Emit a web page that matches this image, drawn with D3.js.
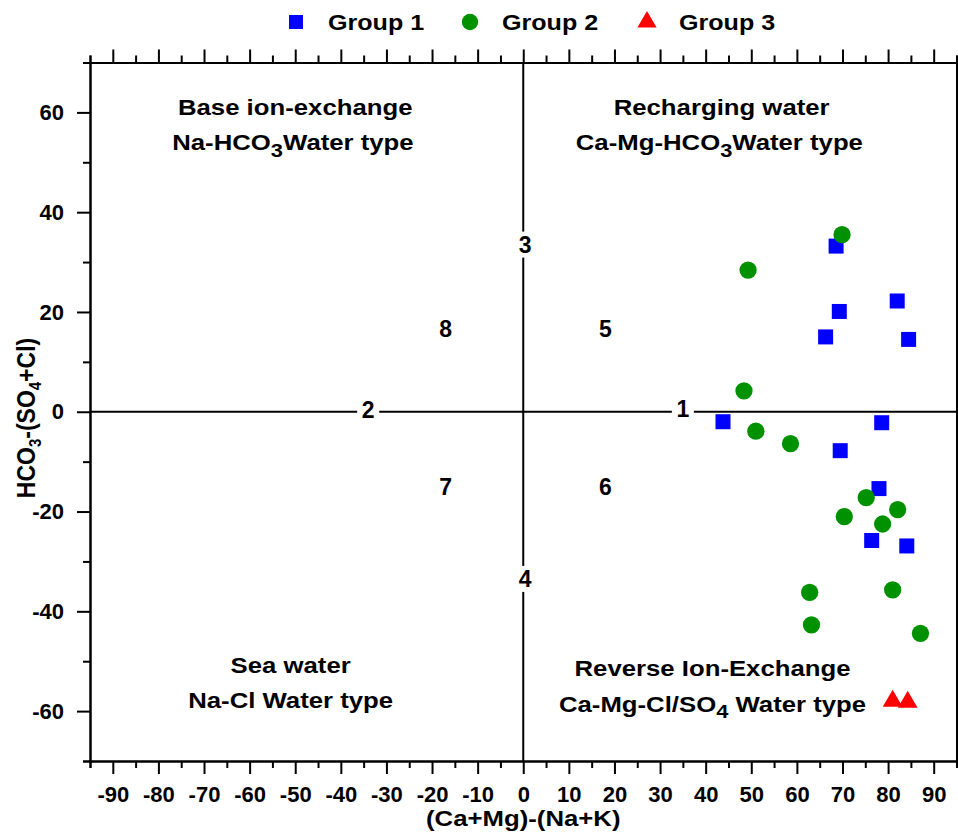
<!DOCTYPE html>
<html>
<head>
<meta charset="utf-8">
<script src="https://cdn.jsdelivr.net/npm/d3@7"></script>
<style>
  html, body { margin: 0; padding: 0; background: #fff; }
  svg { display: block; font-family: "Liberation Sans", Arial, Helvetica, sans-serif; font-weight: bold; }
</style>
</head>
<body>
<svg id="chart" width="958" height="836"></svg>
<script>
// ---- data -------------------------------------------------------------
const seriesNames  = ["Group 1", "Group 2", "Group 3"];
const seriesColors = ["#0000ff", "#009100", "#ff0000"];

const group1X = [68.6, 69.3, 82.0, 66.3, 84.5, 43.8, 69.5, 78.6, 78.0, 76.4, 84.1];
const group1Y = [33.2, 20.1, 22.2, 15.0, 14.5, -2.0, -7.8, -2.2, -15.4, -25.8, -26.9];

const group2X = [69.9, 49.3, 48.4, 51.0, 58.6, 75.2, 82.1, 70.4, 78.8, 62.8, 81.0, 63.2, 87.1];
const group2Y = [35.5, 28.4, 4.2, -3.9, -6.4, -17.2, -19.6, -21.0, -22.5, -36.2, -35.7, -42.7, -44.4];

const group3X = [81.0, 84.3];
const group3Y = [-58.0, -58.2];

const xTicks      = d3.range(-90, 91, 10);
const xMinorTicks = d3.range(-95, 96, 10);
const yTicks      = d3.range(-60, 61, 20);
const yMinorTicks = d3.range(-70, 71, 20);

// zone numbers and where they sit
const zoneNumbers = ["1", "2", "3", "4", "5", "6", "7", "8"];
const zoneX       = [35, -34, 0.4, 0.4, 18, 18, -17, -17];
const zoneY       = [0.6, 0.4, 33.5, -33.5, 16.7, -15, -15, 16.7];
const zoneOnLine  = [true, true, true, true, false, false, false, false];

// quadrant captions: each line is a list of [text, isSubscript]
const quadLines = [
  [["Base ion-exchange", false]],
  [["Na-HCO", false], ["3", true], ["Water type", false]],
  [["Recharging water", false]],
  [["Ca-Mg-HCO", false], ["3", true], ["Water type", false]],
  [["Sea water", false]],
  [["Na-Cl Water type", false]],
  [["Reverse Ion-Exchange", false]],
  [["Ca-Mg-Cl/SO", false], ["4", true], [" Water type", false]]
];
const quadX = [-50, -50.5, 43.5, 43, -51, -51, 41.5, 41.5];
const quadY = [61, 54, 61, 54, -50.8, -57.8, -51.4, -58.6];

// ---- layout -----------------------------------------------------------
const svg = d3.select("#chart");
const plotLeft = 90, plotRight = 956.5, plotTop = 62.5, plotBottom = 761;
const x = d3.scaleLinear().domain([-95, 95]).range([plotLeft, plotRight]);
const y = d3.scaleLinear().domain([-70, 70]).range([plotBottom, plotTop]);

function richText(g, cx, cy, parts, size, stretch, anchor) {
  const t = g.append("text")
    .attr("transform", `translate(${cx},${cy}) scale(${stretch},1)`)
    .attr("text-anchor", anchor || "middle")
    .attr("font-size", size)
    .attr("dy", "0.36em");
  parts.forEach(([s, sub]) => {
    const ts = t.append("tspan").text(s);
    if (sub) ts.attr("font-size", size * 0.85).attr("baseline-shift", -size * 0.28 + "px");
  });
  return t;
}

// ---- dividing lines ---------------------------------------------------
svg.append("line").attr("x1", x(-95)).attr("x2", x(95)).attr("y1", y(0)).attr("y2", y(0))
  .attr("stroke", "#000").attr("stroke-width", 2);
svg.append("line").attr("x1", x(0)).attr("x2", x(0)).attr("y1", y(-70)).attr("y2", y(70))
  .attr("stroke", "#000").attr("stroke-width", 2);

const zones = svg.append("g");
zoneNumbers.forEach((n, i) => {
  if (zoneOnLine[i]) {
    zones.append("rect")
      .attr("x", x(zoneX[i]) - 11).attr("y", y(zoneY[i]) - 13)
      .attr("width", 22).attr("height", 26).attr("fill", "#fff");
  }
  zones.append("text")
    .attr("x", x(zoneX[i])).attr("y", y(zoneY[i]))
    .attr("dy", "0.36em").attr("text-anchor", "middle")
    .attr("font-size", 23).text(n);
});

// ---- quadrant captions -------------------------------------------------
const caps = svg.append("g");
quadLines.forEach((parts, i) => richText(caps, x(quadX[i]), y(quadY[i]), parts, 22, 1.17));

// ---- points -----------------------------------------------------------
const pts = svg.append("g");
pts.selectAll(".g1").data(d3.zip(group1X, group1Y)).join("path")
  .attr("transform", d => `translate(${x(d[0])},${y(d[1])})`)
  .attr("d", d3.symbol(d3.symbolSquare, 225)()).attr("fill", seriesColors[0]);
pts.selectAll(".g2").data(d3.zip(group2X, group2Y)).join("path")
  .attr("transform", d => `translate(${x(d[0])},${y(d[1])})`)
  .attr("d", d3.symbol(d3.symbolCircle, 235)()).attr("fill", seriesColors[1]);
pts.selectAll(".g3").data(d3.zip(group3X, group3Y)).join("path")
  .attr("transform", d => `translate(${x(d[0])},${y(d[1])})`)
  .attr("d", d3.symbol(d3.symbolTriangle, 170)()).attr("fill", seriesColors[2]);

// ---- axes and frame ---------------------------------------------------
function styleAxis(g) {
  g.selectAll("path, line").attr("stroke", "#000").attr("stroke-width", 2);
  g.selectAll("text").attr("font-size", 22).attr("font-weight", "bold").attr("fill", "#000")
    .attr("font-family", '"Liberation Sans", Arial, sans-serif');
}
const axes = svg.append("g");
// bottom
axes.append("g").attr("transform", `translate(0,${plotBottom})`)
  .call(d3.axisBottom(x).tickValues(xMinorTicks).tickSize(7).tickFormat(""))
  .call(styleAxis);
axes.append("g").attr("transform", `translate(0,${plotBottom})`)
  .call(d3.axisBottom(x).tickValues(xTicks).tickSize(13).tickSizeOuter(0).tickPadding(12).tickFormat(d3.format("d")))
  .call(styleAxis);
// top
axes.append("g").attr("transform", `translate(0,${plotTop})`)
  .call(d3.axisTop(x).tickValues(xMinorTicks).tickSize(7).tickFormat(""))
  .call(styleAxis);
axes.append("g").attr("transform", `translate(0,${plotTop})`)
  .call(d3.axisTop(x).tickValues(xTicks).tickSize(13).tickSizeOuter(0).tickFormat(""))
  .call(styleAxis);
// left
axes.append("g").attr("transform", `translate(${plotLeft},0)`)
  .call(d3.axisLeft(y).tickValues(yMinorTicks).tickSize(7).tickFormat(""))
  .call(styleAxis);
axes.append("g").attr("transform", `translate(${plotLeft},0)`)
  .call(d3.axisLeft(y).tickValues(yTicks).tickSize(13).tickSizeOuter(0).tickPadding(13).tickFormat(d3.format("d")))
  .call(styleAxis);
// right
axes.append("g").attr("transform", `translate(${plotRight},0)`)
  .call(d3.axisRight(y).tickValues(yMinorTicks).tickSize(7).tickFormat(""))
  .call(styleAxis);
axes.append("g").attr("transform", `translate(${plotRight},0)`)
  .call(d3.axisRight(y).tickValues(yTicks).tickSize(13).tickSizeOuter(0).tickFormat(""))
  .call(styleAxis);
// minus sign as a plain hyphen
axes.selectAll("text").text(function () { return this.textContent.replace("\u2212", "-"); });

// axis titles
richText(svg, (plotLeft + plotRight) / 2, 818, [["(Ca+Mg)-(Na+K)", false]], 23, 1.12);
const yt = svg.append("text")
  .attr("transform", `translate(26,418) rotate(-90) scale(1,1.12)`)
  .attr("text-anchor", "middle").attr("font-size", 23).attr("dy", "0.36em");
[["HCO", false], ["3", true], ["-(SO", false], ["4", true], ["+Cl)", false]].forEach(([s, sub]) => {
  const ts = yt.append("tspan").text(s);
  if (sub) ts.attr("font-size", 15).attr("baseline-shift", "-5px");
});

// ---- legend -----------------------------------------------------------
const legendSymbolX = [296, 470, 647];
const legendSymbols = [
  d3.symbol(d3.symbolSquare, 196)(),
  d3.symbol(d3.symbolCircle, 210)(),
  d3.symbol(d3.symbolTriangle, 160)()
];
const legend = svg.append("g");
seriesNames.forEach((name, i) => {
  legend.append("path").attr("transform", `translate(${legendSymbolX[i]},22)`)
    .attr("d", legendSymbols[i]).attr("fill", seriesColors[i]);
  richText(legend, legendSymbolX[i] + 32, 22, [[name, false]], 22, 1.14, "start");
});
</script>
</body>
</html>
